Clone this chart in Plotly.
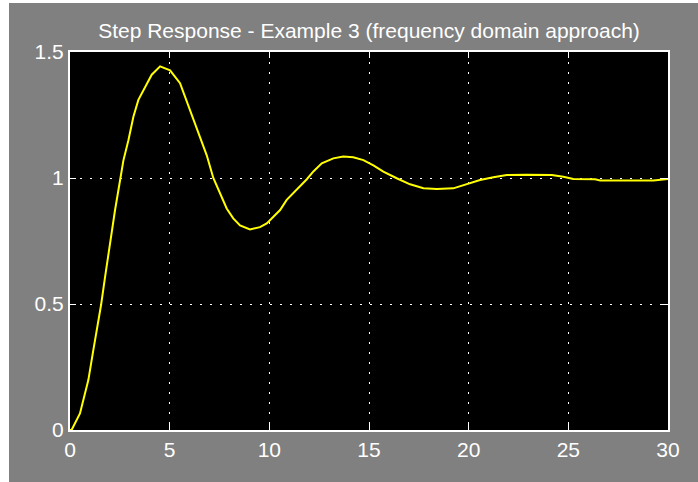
import plotly.graph_objects as go

# Values
t = [0.0, 0.08, 0.5, 0.92, 1.17, 1.42, 1.56, 1.76, 2.0, 2.26, 2.51, 2.68, 2.93, 3.18,
     3.43, 3.76, 4.1, 4.52, 5.02, 5.52, 6.02, 6.52, 6.86, 7.19, 7.53, 7.86, 8.19, 8.53,
     9.03, 9.53, 9.87, 10.54, 10.87, 11.37, 11.88, 12.21, 12.63, 13.21, 13.71, 14.21,
     14.72, 15.22, 15.72, 16.39, 17.06, 17.73, 18.4, 19.23, 19.9, 20.57, 21.24, 21.91,
     22.91, 24.17, 24.75, 25.25, 26.34, 26.6, 29.27, 30.0]
y = [0.0, 0.0, 0.066, 0.198, 0.317, 0.424, 0.497, 0.608, 0.74, 0.873, 0.99, 1.07, 1.15, 1.243,
     1.31, 1.362, 1.41, 1.443, 1.427, 1.376, 1.27, 1.168, 1.09, 1.0, 0.935, 0.879, 0.84, 0.812,
     0.796, 0.805, 0.82, 0.873, 0.913, 0.952, 0.995, 1.026, 1.058, 1.078, 1.085, 1.082,
     1.071, 1.05, 1.025, 0.999, 0.975, 0.959, 0.956, 0.959, 0.975, 0.992, 1.003, 1.012,
     1.013, 1.012, 1.005, 0.996, 0.995, 0.99, 0.99, 0.996]

x_ticks = [0, 5, 10, 15, 20, 25, 30]
y_ticks = [0, 0.5, 1, 1.5]
y_tick_labels = ["0", "0.5", "1", "1.5"]
title_text = "Step Response - Example 3 (frequency domain approach)"

W, H = 698, 482
L, R, T, B = 70, 30, 52, 52

fig = go.Figure()
fig.add_trace(go.Scatter(x=t, y=y, mode="lines",
                         line=dict(color="#ffff00", width=2),
                         showlegend=False))

font = dict(family="Liberation Sans, Arial, sans-serif", size=21, color="white")
axis_common = dict(showline=True, linecolor="white", linewidth=2, mirror="ticks",
                   ticks="inside", ticklen=6, tickcolor="white", tickwidth=1,
                   showgrid=True, gridcolor="white", gridwidth=1, griddash="2px,8px",
                   zeroline=False, tickfont=font)

fig.update_layout(
    width=W, height=H,
    margin=dict(l=L, r=R, t=T, b=B),
    paper_bgcolor="#808080", plot_bgcolor="black",
    title=dict(text=title_text, x=(L + (W - R)) / 2 / W, xanchor="center",
               y=1 - 31 / H, yanchor="middle", font=font),
    xaxis=dict(range=[0, 30], tickvals=x_ticks, **axis_common),
    yaxis=dict(range=[0, 1.5], tickvals=y_ticks, ticktext=y_tick_labels, **axis_common),
)

pw, ph = W - L - R, H - T - B
# white edge strips (left and top) seen on the reference
fig.add_shape(type="rect", xref="paper", yref="paper", layer="above",
              x0=-L / pw, x1=(9 - L) / pw, y0=-B / ph - 0.01, y1=1 + T / ph + 0.01,
              fillcolor="white", line=dict(width=0))
fig.add_shape(type="rect", xref="paper", yref="paper", layer="above",
              x0=-L / pw, x1=1 + R / pw, y0=1 + (T - 3) / ph, y1=1 + T / ph + 0.01,
              fillcolor="white", line=dict(width=0))

fig.write_html("out.html", config={"displayModeBar": False},
               post_script="document.body.style.margin='0';document.body.style.overflow='hidden';")
